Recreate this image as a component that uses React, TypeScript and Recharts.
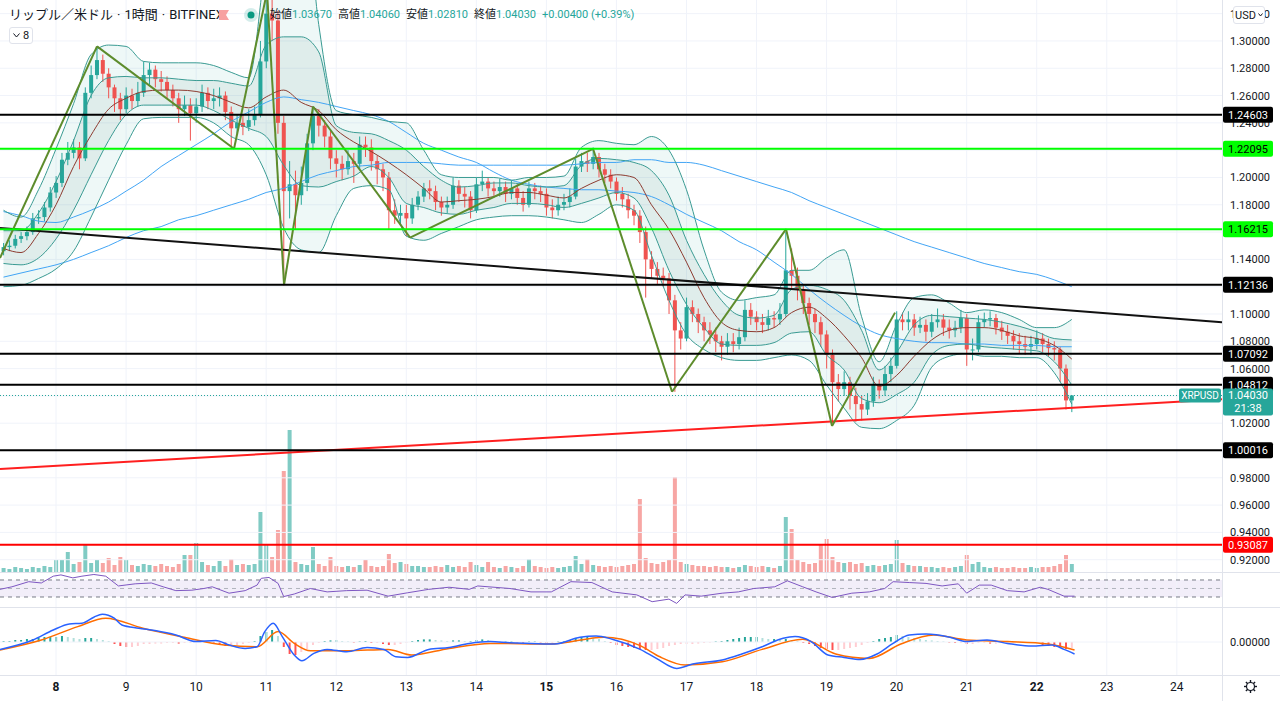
import React from 'react'
import {
  ComposedChart, Bar, Line, Area, XAxis, YAxis, ReferenceLine, ReferenceArea, Cell,
} from 'recharts'

// XRP/USD 1h (Bitfinex), drawn here as 2-hour candles
const T0 = 7.25
const STEP = 1 / 12
const X_DOMAIN: [number, number] = [7.2, 24.645]
const PRICE_DOMAIN: [number, number] = [0.911, 1.33]
const RSI_DOMAIN: [number, number] = [6.47, 86.47]
const MACD_DOMAIN: [number, number] = [-0.0165, 0.017]
const VOL_DOMAIN: [number, number] = [0, 572]

const DAYS = [8, 9, 10, 11, 12, 13, 14, 15, 16, 17, 18, 19, 20, 21, 22, 23, 24]
const BOLD_DAYS = [8, 15, 22]
const PRICE_TICKS = [0.92, 0.94, 0.96, 0.98, 1.0, 1.02, 1.04, 1.06, 1.08, 1.1, 1.12, 1.14, 1.16, 1.18, 1.2, 1.22, 1.24, 1.26, 1.28, 1.3, 1.32]
// scale labels that are not hidden behind a price tag
const PRICE_LABELS = [0.92, 0.94, 0.96, 0.98, 1.02, 1.06, 1.08, 1.1, 1.14, 1.18, 1.2, 1.24, 1.26, 1.28, 1.3, 1.32]

const FIRST_OPEN = 1.146
const CLOSE = [
  1.149, 1.150, 1.155, 1.157, 1.160, 1.170, 1.171, 1.178, 1.189, 1.196,
  1.213, 1.218, 1.222, 1.214, 1.262, 1.275, 1.286, 1.276, 1.266, 1.258,
  1.250, 1.260, 1.256, 1.262, 1.275, 1.279, 1.272, 1.270, 1.264, 1.258,
  1.250, 1.253, 1.247, 1.252, 1.262, 1.256, 1.258, 1.260, 1.248, 1.236,
  1.240, 1.237, 1.242, 1.246, 1.285, 1.320, 1.315, 1.240, 1.190, 1.195,
  1.187, 1.196, 1.225, 1.245, 1.238, 1.230, 1.214, 1.210, 1.206, 1.212,
  1.210, 1.224, 1.222, 1.212, 1.206, 1.200, 1.176, 1.172, 1.174, 1.170,
  1.180, 1.186, 1.192, 1.190, 1.182, 1.178, 1.180, 1.194, 1.188, 1.186,
  1.176, 1.195, 1.197, 1.192, 1.190, 1.193, 1.188, 1.192, 1.185, 1.180,
  1.192, 1.190, 1.188, 1.178, 1.176, 1.180, 1.182, 1.186, 1.208, 1.212,
  1.210, 1.215, 1.206, 1.202, 1.197, 1.188, 1.184, 1.176, 1.172, 1.160,
  1.140, 1.133, 1.128, 1.126, 1.110, 1.088, 1.082, 1.105, 1.100, 1.094,
  1.088, 1.085, 1.080, 1.076, 1.080, 1.078, 1.083, 1.103, 1.098, 1.094,
  1.092, 1.097, 1.096, 1.100, 1.132, 1.128, 1.118, 1.108, 1.100, 1.094,
  1.085, 1.070, 1.050, 1.045, 1.050, 1.040, 1.034, 1.030, 1.036, 1.048,
  1.044, 1.056, 1.062, 1.096, 1.094, 1.096, 1.090, 1.092, 1.087, 1.094,
  1.096, 1.090, 1.088, 1.090, 1.097, 1.074, 1.074, 1.094, 1.096, 1.097,
  1.090, 1.087, 1.084, 1.080, 1.078, 1.076, 1.078, 1.082, 1.078, 1.075,
  1.074, 1.060, 1.0367, 1.0403,
]
const HIGH = [
  1.152, 1.154, 1.158, 1.160, 1.164, 1.174, 1.176, 1.182, 1.193, 1.201,
  1.218, 1.226, 1.228, 1.226, 1.266, 1.282, 1.296, 1.290, 1.280, 1.268,
  1.262, 1.266, 1.265, 1.270, 1.285, 1.284, 1.282, 1.278, 1.274, 1.268,
  1.262, 1.260, 1.258, 1.258, 1.268, 1.266, 1.265, 1.266, 1.263, 1.252,
  1.246, 1.246, 1.250, 1.252, 1.300, 1.340, 1.336, 1.322, 1.245, 1.212,
  1.205, 1.208, 1.232, 1.252, 1.250, 1.242, 1.234, 1.220, 1.216, 1.220,
  1.218, 1.230, 1.230, 1.228, 1.216, 1.210, 1.204, 1.184, 1.180, 1.180,
  1.185, 1.190, 1.196, 1.198, 1.194, 1.186, 1.186, 1.200, 1.198, 1.193,
  1.190, 1.200, 1.205, 1.200, 1.197, 1.199, 1.197, 1.198, 1.195, 1.190,
  1.197, 1.196, 1.194, 1.192, 1.184, 1.186, 1.188, 1.192, 1.214, 1.218,
  1.218, 1.222, 1.218, 1.210, 1.206, 1.200, 1.193, 1.188, 1.180, 1.176,
  1.164, 1.146, 1.138, 1.134, 1.130, 1.114, 1.094, 1.112, 1.110, 1.104,
  1.098, 1.094, 1.090, 1.084, 1.086, 1.086, 1.090, 1.110, 1.108, 1.102,
  1.100, 1.103, 1.102, 1.108, 1.160, 1.148, 1.134, 1.122, 1.112, 1.104,
  1.098, 1.088, 1.074, 1.056, 1.058, 1.054, 1.046, 1.040, 1.042, 1.054,
  1.052, 1.062, 1.068, 1.102, 1.101, 1.102, 1.100, 1.098, 1.096, 1.100,
  1.104, 1.100, 1.096, 1.095, 1.103, 1.100, 1.082, 1.099, 1.101, 1.102,
  1.100, 1.095, 1.092, 1.088, 1.086, 1.084, 1.084, 1.088, 1.086, 1.082,
  1.080, 1.076, 1.063, 1.0406,
]
const LOW = [
  1.143, 1.146, 1.148, 1.152, 1.154, 1.158, 1.166, 1.168, 1.175, 1.185,
  1.193, 1.209, 1.214, 1.206, 1.212, 1.258, 1.272, 1.270, 1.258, 1.248,
  1.242, 1.247, 1.250, 1.252, 1.259, 1.268, 1.266, 1.263, 1.258, 1.252,
  1.240, 1.245, 1.227, 1.240, 1.248, 1.250, 1.250, 1.252, 1.242, 1.221,
  1.232, 1.231, 1.234, 1.238, 1.244, 1.280, 1.300, 1.232, 1.121, 1.170,
  1.162, 1.180, 1.190, 1.220, 1.230, 1.222, 1.206, 1.200, 1.198, 1.202,
  1.196, 1.206, 1.215, 1.205, 1.195, 1.190, 1.162, 1.166, 1.166, 1.157,
  1.166, 1.176, 1.182, 1.184, 1.176, 1.172, 1.174, 1.177, 1.182, 1.178,
  1.170, 1.174, 1.190, 1.186, 1.185, 1.186, 1.182, 1.184, 1.180, 1.175,
  1.178, 1.184, 1.182, 1.172, 1.170, 1.172, 1.176, 1.178, 1.184, 1.204,
  1.204, 1.206, 1.200, 1.196, 1.192, 1.183, 1.178, 1.170, 1.165, 1.152,
  1.112, 1.126, 1.122, 1.120, 1.100, 1.043, 1.074, 1.080, 1.094, 1.086,
  1.080, 1.078, 1.072, 1.066, 1.070, 1.072, 1.074, 1.080, 1.092, 1.088,
  1.086, 1.088, 1.090, 1.092, 1.098, 1.118, 1.110, 1.100, 1.092, 1.086,
  1.076, 1.060, 1.020, 1.036, 1.040, 1.030, 1.021, 1.022, 1.026, 1.032,
  1.038, 1.040, 1.050, 1.060, 1.088, 1.088, 1.084, 1.086, 1.080, 1.083,
  1.090, 1.084, 1.082, 1.083, 1.086, 1.062, 1.066, 1.072, 1.090, 1.091,
  1.085, 1.081, 1.078, 1.074, 1.071, 1.070, 1.070, 1.074, 1.072, 1.069,
  1.066, 1.050, 1.030, 1.0281,
]
// volume, 10k XRP
const VOLUME = [
  4, 3, 5, 4, 3, 5, 4, 6, 5, 12,
  12, 20, 8, 10, 28, 9, 12, 9, 14, 7,
  15, 12, 7, 6, 8, 7, 6, 8, 6, 5,
  8, 17, 17, 29, 10, 7, 6, 11, 6, 13,
  7, 8, 7, 8, 60, 28, 15, 42, 101, 142,
  10, 8, 7, 25, 8, 6, 15, 6, 5, 6,
  5, 7, 12, 6, 5, 6, 18, 9, 10, 8,
  6, 6, 5, 5, 6, 5, 7, 5, 6, 5,
  10, 7, 5, 10, 5, 4, 6, 5, 4, 6,
  13, 6, 5, 4, 5, 4, 5, 6, 16, 8,
  13, 7, 6, 5, 6, 5, 6, 7, 8, 73,
  14, 9, 8, 10, 12, 95, 10, 8, 7, 6,
  6, 5, 6, 5, 5, 4, 5, 7, 6, 5,
  6, 5, 4, 6, 55, 43, 12, 10, 8, 9,
  27, 33, 15, 10, 9, 10, 8, 9, 6, 7,
  6, 7, 8, 32, 9, 7, 6, 6, 5, 5,
  4, 5, 4, 5, 6, 17, 8, 10, 5, 4,
  5, 4, 4, 5, 4, 4, 5, 4, 5, 5,
  6, 8, 17, 8,
]

// Bollinger envelopes and moving averages, every 6 hours (every 3rd candle)
const BB_OUTER_UP = [
  1.176, 1.171, 1.191, 1.221, 1.254, 1.290, 1.297, 1.296, 1.285, 1.284,
  1.284, 1.284, 1.282, 1.277, 1.273, 1.359, 1.418, 1.425, 1.312, 1.249,
  1.246, 1.244, 1.241, 1.240, 1.220, 1.202, 1.200, 1.200, 1.200, 1.198,
  1.200, 1.200, 1.201, 1.222, 1.227, 1.225, 1.224, 1.230, 1.220, 1.191,
  1.147, 1.116, 1.110, 1.112, 1.114, 1.132, 1.132, 1.141, 1.147, 1.098,
  1.065, 1.092, 1.112, 1.114, 1.108, 1.101, 1.103, 1.101, 1.096, 1.090,
  1.090, 1.096,
]
const BB_INNER_UP = [
  1.161, 1.161, 1.174, 1.197, 1.227, 1.260, 1.273, 1.274, 1.273, 1.273,
  1.272, 1.271, 1.271, 1.269, 1.267, 1.297, 1.303, 1.303, 1.292, 1.238,
  1.233, 1.232, 1.227, 1.220, 1.208, 1.198, 1.193, 1.194, 1.196, 1.196,
  1.194, 1.193, 1.194, 1.209, 1.214, 1.213, 1.211, 1.205, 1.187, 1.154,
  1.129, 1.110, 1.099, 1.097, 1.099, 1.118, 1.121, 1.118, 1.110, 1.088,
  1.059, 1.072, 1.092, 1.099, 1.098, 1.097, 1.096, 1.094, 1.091, 1.087,
  1.082, 1.081,
]
const BB_BASIS = [
  1.148, 1.145, 1.159, 1.180, 1.208, 1.231, 1.250, 1.258, 1.263, 1.264,
  1.264, 1.263, 1.260, 1.255, 1.251, 1.259, 1.264, 1.255, 1.249, 1.235,
  1.226, 1.219, 1.211, 1.202, 1.192, 1.182, 1.183, 1.184, 1.186, 1.189,
  1.189, 1.187, 1.185, 1.192, 1.198, 1.202, 1.200, 1.180, 1.162, 1.138,
  1.112, 1.094, 1.088, 1.087, 1.090, 1.101, 1.105, 1.097, 1.084, 1.068,
  1.047, 1.055, 1.069, 1.081, 1.088, 1.090, 1.090, 1.088, 1.084, 1.082,
  1.077, 1.067,
]
const BB_INNER_LO = [
  1.137, 1.136, 1.141, 1.155, 1.176, 1.202, 1.227, 1.246, 1.253, 1.253,
  1.253, 1.253, 1.249, 1.242, 1.236, 1.230, 1.209, 1.194, 1.193, 1.197,
  1.201, 1.208, 1.200, 1.181, 1.178, 1.174, 1.173, 1.176, 1.178, 1.181,
  1.181, 1.180, 1.178, 1.181, 1.185, 1.189, 1.185, 1.163, 1.132, 1.107,
  1.090, 1.078, 1.077, 1.077, 1.079, 1.086, 1.087, 1.070, 1.059, 1.038,
  1.035, 1.041, 1.050, 1.070, 1.077, 1.078, 1.076, 1.075, 1.074, 1.073,
  1.065, 1.048,
]
const BB_OUTER_LO = [
  1.120, 1.121, 1.126, 1.133, 1.146, 1.171, 1.198, 1.224, 1.243, 1.244,
  1.244, 1.244, 1.240, 1.230, 1.224, 1.202, 1.163, 1.147, 1.145, 1.172,
  1.192, 1.194, 1.191, 1.157, 1.154, 1.159, 1.164, 1.169, 1.171, 1.172,
  1.172, 1.171, 1.169, 1.167, 1.173, 1.180, 1.176, 1.143, 1.110, 1.085,
  1.074, 1.068, 1.066, 1.066, 1.068, 1.070, 1.066, 1.048, 1.031, 1.017,
  1.016, 1.022, 1.033, 1.061, 1.069, 1.071, 1.069, 1.069, 1.068, 1.068,
  1.057, 1.034,
]
const MA_FAST = [
  1.175, 1.172, 1.168, 1.167, 1.171, 1.176, 1.182, 1.190, 1.198, 1.208,
  1.216, 1.224, 1.232, 1.241, 1.248, 1.255, 1.259, 1.257, 1.255, 1.252,
  1.249, 1.246, 1.241, 1.233, 1.225, 1.220, 1.215, 1.211, 1.204, 1.198,
  1.195, 1.193, 1.192, 1.191, 1.191, 1.190, 1.189, 1.186, 1.180, 1.173,
  1.167, 1.161, 1.153, 1.147, 1.138, 1.129, 1.118, 1.108, 1.099, 1.091,
  1.085, 1.082, 1.080, 1.079, 1.079, 1.078, 1.078, 1.077, 1.077, 1.077,
  1.076, 1.076,
]
const MA_SLOW = [
  1.127, 1.130, 1.133, 1.136, 1.140, 1.145, 1.150, 1.156, 1.161, 1.164,
  1.169, 1.172, 1.176, 1.180, 1.184, 1.189, 1.192, 1.197, 1.202, 1.205,
  1.208, 1.209, 1.211, 1.211, 1.211, 1.210, 1.209, 1.209, 1.209, 1.209,
  1.209, 1.209, 1.209, 1.210, 1.211, 1.211, 1.213, 1.213, 1.211, 1.211,
  1.209, 1.205, 1.201, 1.197, 1.193, 1.189, 1.183, 1.178, 1.173, 1.168,
  1.163, 1.158, 1.153, 1.149, 1.145, 1.141, 1.137, 1.134, 1.131, 1.129,
  1.125, 1.120,
]

// horizontal levels and drawings
const BLACK_LEVELS = [1.24603, 1.12136, 1.07092, 1.04812, 1.00016]
const GREEN_LEVELS = [1.22095, 1.16215]
const RED_LEVELS = [0.93087]
const LAST_PRICE = 1.0403
const RESIST_T = [7.2, 24.645]
const RESIST_P = [1.163, 1.094]
const SUPPORT_T = [7.2, 24.645]
const SUPPORT_P = [0.9864, 1.0376]
const ZIGZAG_T = [7.2, 8.585, 10.541, 11.012, 11.255, 11.669, 13.054, 15.666, 16.794, 18.421, 19.078, 19.977]
const ZIGZAG_P = [1.141, 1.296, 1.221, 1.336, 1.1214, 1.252, 1.156, 1.221, 1.043, 1.1622, 1.018, 1.101]

// RSI(14)
const RSI_T = [
  7.20, 7.37, 7.61, 7.79, 7.96, 8.07, 8.24, 8.37, 8.54, 8.71,
  8.89, 9.13, 9.36, 9.53, 9.71, 9.94, 10.11, 10.23, 10.47, 10.70,
  10.87, 10.93, 11.04, 11.17, 11.25, 11.40, 11.63, 11.87, 12.15, 12.44,
  12.74, 13.02, 13.32, 13.61, 13.90, 14.02, 14.48, 14.78, 15.07, 15.35,
  15.65, 15.94, 16.29, 16.51, 16.75, 16.86, 16.98, 17.21, 17.51, 17.74,
  17.96, 18.26, 18.44, 18.66, 18.85, 19.08, 19.36, 19.61, 19.83, 19.95,
  20.18, 20.42, 20.65, 20.88, 21.00, 21.18, 21.35, 21.58, 21.82, 22.05,
  22.16, 22.39, 22.54,
]
const RSI_V = [
  48, 54, 66, 63, 79, 82, 75, 79, 83, 79,
  56, 61, 63, 54, 45, 46, 50, 54, 39, 45,
  58, 74, 76, 62, 31, 37, 50, 42, 45, 46,
  32, 40, 48, 53, 48, 56, 50, 42, 42, 66,
  64, 42, 35, 19, 25, 15, 35, 32, 39, 42,
  50, 54, 68, 54, 42, 29, 39, 42, 50, 66,
  64, 62, 56, 61, 39, 58, 58, 45, 42, 53,
  48, 32, 32,
]

// MACD(12,26,9), values in 1e-4
const MACD_T = [
  7.20, 7.67, 7.96, 8.19, 8.37, 8.54, 8.66, 8.83, 8.94, 9.18,
  9.41, 9.71, 10.00, 10.28, 10.47, 10.70, 10.87, 10.98, 11.10, 11.23,
  11.40, 11.51, 11.68, 11.87, 12.15, 12.44, 12.68, 12.85, 13.02, 13.32,
  13.61, 13.90, 14.20, 14.48, 14.78, 15.12, 15.48, 15.71, 15.94, 16.34,
  16.57, 16.86, 17.09, 17.51, 17.79, 18.08, 18.38, 18.55, 18.78, 19.02,
  19.25, 19.48, 19.72, 19.95, 20.18, 20.42, 20.76, 21.00, 21.29, 21.58,
  21.93, 22.22, 22.39, 22.54,
]
const MACD_V = [
  -37, 10, 60, 90, 94, 124, 139, 119, 85, 69,
  57, 35, 2, 7, -15, -32, -24, 52, 94, 27,
  -65, -94, -57, -37, -49, -27, -37, -74, -77, -37,
  -27, -7, 2, -4, -7, -10, 24, 30, 14, -37,
  -82, -132, -110, -90, -60, -24, 19, 27, 2, -65,
  -77, -87, -60, -7, 35, 40, 24, 2, 10, -7,
  -20, -15, -37, -60,
]
const SIGNAL_T = [
  7.20, 7.79, 8.31, 8.71, 9.24, 9.83, 10.40, 10.87, 11.17, 11.40,
  11.63, 12.15, 12.74, 13.08, 13.61, 14.20, 15.07, 15.82, 16.34, 16.62,
  16.98, 17.51, 18.08, 18.66, 19.13, 19.61, 20.06, 20.53, 21.00, 21.58,
  22.16, 22.54,
]
const SIGNAL_V = [
  -40, 10, 77, 119, 69, 24, -15, -24, 52, -7,
  -44, -44, -37, -65, -32, -7, -10, 24, -18, -74,
  -115, -99, -37, 14, -60, -82, -10, 35, 10, 2,
  -10, -40,
]
const MACD_HIST = [
  5, 5, 10, 10, 15, 15, 20, 25, 25, 25,
  30, 25, 20, 15, 20, 20, 15, 10, 5, -10,
  -20, -25, -25, -20, -10, -10, -8, -8, -5, -5,
  -8, -5, -5, 3, 3, -5, -10, -15, -20, -20,
  -15, -10, -5, 5, 30, 50, 60, 30, -25, -60,
  -65, -50, -35, -15, -5, 5, 8, 8, 5, 3,
  -3, 3, 5, -5, -5, -10, -15, -15, -10, -5,
  5, 10, 13, 13, 10, 8, 5, 8, 8, 5,
  5, 10, 13, 10, 5, 3, 3, 3, -3, -5,
  3, 3, -3, -5, -5, 3, 5, 10, 20, 25,
  25, 20, 15, 5, -5, -15, -20, -25, -30, -35,
  -40, -40, -35, -30, -20, -15, -10, -10, -10, -8,
  -5, -3, 3, 5, 10, 15, 20, 25, 25, 25,
  20, 15, 15, 10, 15, 10, 5, -5, -10, -20,
  -30, -35, -40, -40, -35, -30, -25, -15, -5, 5,
  15, 20, 25, 35, 30, 25, 20, 15, 10, 8,
  5, 3, -3, -5, -5, -10, -10, -5, -5, -8,
  -8, -5, -5, -5, -3, -5, -5, -3, -15, -20,
  -25, -30, -35, -30,
]

const UP = '#26a69a'
const DOWN = '#ef5350'
const TEXT = '#131722'
const GRID = '#f0f3fa'
const BORDER = '#e0e3eb'
const BAND = '#3a9b93'
const FONT = 'Roboto, "Noto Sans CJK JP", "Noto Sans", sans-serif'

const rows = CLOSE.map((c, i) => {
  const k = i % 3 === 0 ? i / 3 : -1
  const pick = (a: number[]) => (k >= 0 ? a[k] : null)
  return {
    t: T0 + i * STEP,
    o: i === 0 ? FIRST_OPEN : CLOSE[i - 1],
    h: HIGH[i],
    l: LOW[i],
    c,
    vol: VOLUME[i],
    hist: MACD_HIST[i] / 1e4,
    ou: pick(BB_OUTER_UP),
    iu: pick(BB_INNER_UP),
    mid: pick(BB_BASIS),
    il: pick(BB_INNER_LO),
    ol: pick(BB_OUTER_LO),
    fast: pick(MA_FAST),
    slow: pick(MA_SLOW),
  }
})
const histRows = rows.map((r, i) => ({ t: r.t, hist: r.hist, prev: i > 0 ? rows[i - 1].hist : 0 }))
const rsiRows = RSI_T.map((t, i) => ({ t, v: RSI_V[i] }))
const lineTimes = Array.from(new Set([...MACD_T, ...SIGNAL_T])).sort((a, b) => a - b)
const macdLineRows = lineTimes.map((t) => {
  const m = MACD_T.indexOf(t)
  const s = SIGNAL_T.indexOf(t)
  return { t, macd: m >= 0 ? MACD_V[m] / 1e4 : null, signal: s >= 0 ? SIGNAL_V[s] / 1e4 : null }
})

const histColor = (v: number, prev: number) =>
  v >= 0 ? (v >= prev ? '#26a69a' : '#b2dfdb') : (v < prev ? '#ff5252' : '#ffcdd2')

const Candle = (props: any) => {
  const { x, y, width, height, payload } = props
  if (payload == null || x == null || y == null) return null
  const { o, h, l, c } = payload
  const top = Math.min(y, y + height)
  const span = Math.abs(height)
  const k = h > l ? span / (h - l) : 0
  const color = c >= o ? UP : DOWN
  const bodyTop = top + (h - Math.max(o, c)) * k
  const bodyH = Math.max(1, Math.abs(c - o) * k)
  const cx = x + width / 2
  return (
    <g>
      <line x1={cx} x2={cx} y1={top} y2={top + span} stroke={color} strokeWidth={1} />
      <rect x={x} y={bodyTop} width={width} height={bodyH} fill={color} />
    </g>
  )
}

const PriceTick = ({ x, y, payload }: any) => (
  <text x={x} y={y} dy={4} fontSize={11} fill={TEXT} textAnchor="start">
    {Number(payload.value).toFixed(5)}
  </text>
)

const TimeTick = ({ x, y, payload }: any) => (
  <text x={x} y={y} dy={8} fontSize={12} fill={TEXT} textAnchor="middle"
    fontWeight={BOLD_DAYS.includes(payload.value) ? 700 : 400}>
    {payload.value}
  </text>
)

const tag = (value: number, bg: string, fg: string) => (p: any) => {
  const vb = p.viewBox
  if (!vb) return null
  const x = vb.x + vb.width
  return (
    <g>
      <rect x={x + 1} y={vb.y - 8} width={50} height={16} rx={2} fill={bg} />
      <text x={x + 26} y={vb.y + 4} textAnchor="middle" fontSize={11} fill={fg}>{value.toFixed(5)}</text>
    </g>
  )
}

const lastTag = (p: any) => {
  const vb = p.viewBox
  if (!vb) return null
  const x = vb.x + vb.width
  return (
    <g>
      <rect x={x - 43} y={vb.y - 7} width={42} height={14} rx={2} fill={UP} />
      <text x={x - 22} y={vb.y + 4} textAnchor="middle" fontSize={10} fill="#fff">XRPUSD</text>
      <rect x={x + 1} y={vb.y - 7} width={50} height={27} rx={2} fill={UP} />
      <text x={x + 26} y={vb.y + 4} textAnchor="middle" fontSize={11} fill="#fff">{LAST_PRICE.toFixed(5)}</text>
      <text x={x + 26} y={vb.y + 17} textAnchor="middle" fontSize={11} fill="#fff">21:38</text>
    </g>
  )
}

const dayLines = (yAxisId: string) =>
  DAYS.map((d) => <ReferenceLine key={'d' + d} x={d} yAxisId={yAxisId} stroke={GRID} strokeWidth={1} />)

const Legend = ({ label, value }: { label: string; value: string }) => (
  <span style={{ marginRight: 6 }}>
    <span style={{ color: TEXT }}>{label}</span>
    <span style={{ color: UP }}>{value}</span>
  </span>
)

export default function App() {
  const abs = (top: number): React.CSSProperties => ({ position: 'absolute', left: 0, top })
  return (
    <div style={{ position: 'relative', width: 1280, height: 701, background: '#fff', fontFamily: FONT, overflow: 'hidden' }}>
      <style>{'body{margin:0}'}</style>

      {/* grid + volume */}
      <div style={abs(0)}>
        <ComposedChart width={1280} height={572} data={rows} margin={{ top: 0, right: 58, bottom: 0, left: 0 }}>
          <XAxis type="number" dataKey="t" domain={X_DOMAIN} allowDataOverflow hide />
          <YAxis yAxisId="p" domain={PRICE_DOMAIN} allowDataOverflow hide />
          <YAxis yAxisId="v" domain={VOL_DOMAIN} allowDataOverflow hide />
          {PRICE_TICKS.map((p) => <ReferenceLine key={'g' + p} y={p} yAxisId="p" stroke={GRID} />)}
          {dayLines('p')}
          <Bar yAxisId="v" dataKey="vol" barSize={4} isAnimationActive={false}>
            {rows.map((r, i) => <Cell key={i} fill={r.c >= r.o ? '#80cbc4' : '#f7a6a4'} />)}
          </Bar>
        </ComposedChart>
      </div>

      {/* price series */}
      <div style={abs(0)}>
        <ComposedChart width={1280} height={572} data={rows} margin={{ top: 0, right: 0, bottom: 0, left: 0 }}>
          <XAxis type="number" dataKey="t" domain={X_DOMAIN} allowDataOverflow hide />
          <YAxis yAxisId="p" orientation="right" width={58} domain={PRICE_DOMAIN} allowDataOverflow
            ticks={PRICE_LABELS} interval={0} tick={<PriceTick />} axisLine={false} tickLine={false} />
          <Area yAxisId="p" dataKey={(r: any) => (r.ou == null ? null : [r.ol, r.ou])} type="monotone"
            stroke="none" fill="#26a69a" fillOpacity={0.08} connectNulls isAnimationActive={false} />
          <Area yAxisId="p" dataKey={(r: any) => (r.iu == null ? null : [r.il, r.iu])} type="monotone"
            stroke="none" fill="#2f6f6b" fillOpacity={0.08} connectNulls isAnimationActive={false} />
          <Line yAxisId="p" dataKey="slow" type="monotone" stroke="#42a5f5" strokeWidth={1} dot={false} connectNulls isAnimationActive={false} />
          <Line yAxisId="p" dataKey="fast" type="monotone" stroke="#42a5f5" strokeWidth={1} dot={false} connectNulls isAnimationActive={false} />
          <Line yAxisId="p" dataKey="ou" type="monotone" stroke={BAND} strokeWidth={1} dot={false} connectNulls isAnimationActive={false} />
          <Line yAxisId="p" dataKey="ol" type="monotone" stroke={BAND} strokeWidth={1} dot={false} connectNulls isAnimationActive={false} />
          <Line yAxisId="p" dataKey="iu" type="monotone" stroke={BAND} strokeWidth={1} dot={false} connectNulls isAnimationActive={false} />
          <Line yAxisId="p" dataKey="il" type="monotone" stroke={BAND} strokeWidth={1} dot={false} connectNulls isAnimationActive={false} />
          <Line yAxisId="p" dataKey="mid" type="monotone" stroke="#8d3b30" strokeWidth={1} dot={false} connectNulls isAnimationActive={false} />
          <Bar yAxisId="p" dataKey={(r: any) => [r.l, r.h]} barSize={4} shape={<Candle />} isAnimationActive={false} />
        </ComposedChart>
      </div>

      {/* drawings */}
      <div style={abs(0)}>
        <ComposedChart width={1280} height={572} data={rows} margin={{ top: 0, right: 58, bottom: 0, left: 0 }}>
          <XAxis type="number" dataKey="t" domain={X_DOMAIN} allowDataOverflow hide />
          <YAxis yAxisId="p" domain={PRICE_DOMAIN} allowDataOverflow hide />
          <ReferenceLine yAxisId="p" ifOverflow="hidden" stroke="#ff1f1f" strokeWidth={2}
            segment={[{ x: SUPPORT_T[0], y: SUPPORT_P[0] }, { x: SUPPORT_T[1], y: SUPPORT_P[1] }]} />
          <ReferenceLine yAxisId="p" ifOverflow="hidden" stroke="#111" strokeWidth={2}
            segment={[{ x: RESIST_T[0], y: RESIST_P[0] }, { x: RESIST_T[1], y: RESIST_P[1] }]} />
          {ZIGZAG_T.slice(1).map((t, i) => (
            <ReferenceLine key={'z' + i} yAxisId="p" ifOverflow="hidden" stroke="#5d8c2c" strokeWidth={2}
              segment={[{ x: ZIGZAG_T[i], y: ZIGZAG_P[i] }, { x: t, y: ZIGZAG_P[i + 1] }]} />
          ))}
          {GREEN_LEVELS.map((p) => (
            <ReferenceLine key={'gl' + p} yAxisId="p" y={p} stroke="#00ff00" strokeWidth={2} label={tag(p, '#00ff00', '#000')} />
          ))}
          {BLACK_LEVELS.map((p) => (
            <ReferenceLine key={'bl' + p} yAxisId="p" y={p} stroke="#000" strokeWidth={2} label={tag(p, '#000', '#fff')} />
          ))}
          {RED_LEVELS.map((p) => (
            <ReferenceLine key={'rl' + p} yAxisId="p" y={p} stroke="#ff0000" strokeWidth={2} label={tag(p, '#ff0000', '#fff')} />
          ))}
          <ReferenceLine yAxisId="p" y={LAST_PRICE} stroke={UP} strokeDasharray="1 2" label={lastTag} />
        </ComposedChart>
      </div>

      {/* RSI */}
      <div style={abs(573)}>
        <ComposedChart width={1280} height={34} data={rsiRows} margin={{ top: 0, right: 58, bottom: 0, left: 0 }}>
          <XAxis type="number" dataKey="t" domain={X_DOMAIN} allowDataOverflow hide />
          <YAxis yAxisId="r" domain={RSI_DOMAIN} allowDataOverflow hide />
          {dayLines('r')}
          <ReferenceArea yAxisId="r" y1={30} y2={70} fill="#7e57c2" fillOpacity={0.1} stroke="none" />
          <ReferenceLine yAxisId="r" y={70} stroke="#787b86" strokeDasharray="4 4" />
          <ReferenceLine yAxisId="r" y={50} stroke="#b2b5be" strokeDasharray="4 4" />
          <ReferenceLine yAxisId="r" y={30} stroke="#787b86" strokeDasharray="4 4" />
          <Line yAxisId="r" dataKey="v" type="linear" stroke="#7e57c2" strokeWidth={1} dot={false} isAnimationActive={false} />
        </ComposedChart>
      </div>

      {/* MACD histogram + time axis */}
      <div style={abs(608)}>
        <ComposedChart width={1280} height={93} data={histRows} margin={{ top: 0, right: 0, bottom: 0, left: 0 }}>
          <XAxis type="number" dataKey="t" domain={X_DOMAIN} allowDataOverflow ticks={DAYS} interval={0}
            height={26} tick={<TimeTick />} axisLine={false} tickLine={false} />
          <YAxis yAxisId="m" orientation="right" width={58} domain={MACD_DOMAIN} allowDataOverflow ticks={[0]}
            tick={<PriceTick />} axisLine={false} tickLine={false} />
          {dayLines('m')}
          <ReferenceLine yAxisId="m" y={0} stroke={GRID} />
          <Bar yAxisId="m" dataKey="hist" barSize={2} isAnimationActive={false}>
            {histRows.map((r, i) => <Cell key={i} fill={histColor(r.hist, r.prev)} />)}
          </Bar>
        </ComposedChart>
      </div>

      {/* MACD & signal lines */}
      <div style={abs(608)}>
        <ComposedChart width={1280} height={93} data={macdLineRows} margin={{ top: 0, right: 58, bottom: 26, left: 0 }}>
          <XAxis type="number" dataKey="t" domain={X_DOMAIN} allowDataOverflow hide />
          <YAxis yAxisId="m" domain={MACD_DOMAIN} allowDataOverflow hide />
          <Line yAxisId="m" dataKey="signal" type="monotone" stroke="#ff6d00" strokeWidth={1.5} dot={false} connectNulls isAnimationActive={false} />
          <Line yAxisId="m" dataKey="macd" type="monotone" stroke="#2962ff" strokeWidth={1.5} dot={false} connectNulls isAnimationActive={false} />
        </ComposedChart>
      </div>

      {/* pane borders */}
      <div style={{ position: 'absolute', left: 0, top: 572, width: 1280, height: 1, background: BORDER }} />
      <div style={{ position: 'absolute', left: 0, top: 607, width: 1280, height: 1, background: BORDER }} />
      <div style={{ position: 'absolute', left: 0, top: 675, width: 1280, height: 1, background: BORDER }} />
      <div style={{ position: 'absolute', left: 1222, top: 0, width: 1, height: 701, background: BORDER }} />

      {/* header */}
      <div style={{ position: 'absolute', left: 9, top: 6, fontSize: 13, color: TEXT, whiteSpace: 'nowrap', lineHeight: '18px' }}>
        リップル／米ドル<span style={{ margin: '0 4px' }}>·</span>1時間<span style={{ margin: '0 4px' }}>·</span>BITFINEX
      </div>
      <svg style={{ position: 'absolute', left: 219, top: 10 }} width={11} height={10}>
        <path d="M0 0 H10 L7 5 L10 10 H0 Z" fill="#f7a1a1" />
      </svg>
      <svg style={{ position: 'absolute', left: 244, top: 8 }} width={14} height={14}>
        <circle cx={7} cy={7} r={7} fill="#26a69a" fillOpacity={0.2} />
        <circle cx={7} cy={7} r={3.5} fill="#089981" />
      </svg>
      <div style={{ position: 'absolute', left: 270, top: 7, fontSize: 11, whiteSpace: 'nowrap', lineHeight: '16px' }}>
        <Legend label="始値" value="1.03670" />
        <Legend label="高値" value="1.04060" />
        <Legend label="安値" value="1.02810" />
        <Legend label="終値" value="1.04030" />
        <span style={{ color: UP }}>+0.00400 (+0.39%)</span>
      </div>
      <div style={{ position: 'absolute', left: 9, top: 27, width: 22, height: 15, border: `1px solid ${BORDER}`, borderRadius: 3,
        background: '#fff', display: 'flex', alignItems: 'center', justifyContent: 'center', gap: 3, fontSize: 11, color: TEXT }}>
        <svg width={7} height={5}><path d="M0.5 0.5 L3.5 4 L6.5 0.5" stroke={TEXT} fill="none" /></svg>
        <span>8</span>
      </div>
      <div style={{ position: 'absolute', left: 1233, top: 6, width: 30, height: 16, border: `1px solid ${BORDER}`, borderRadius: 3,
        background: '#fff', display: 'flex', alignItems: 'center', justifyContent: 'center', gap: 2, fontSize: 11, color: TEXT }}>
        <span>USD</span>
        <svg width={5} height={4}><path d="M0.5 0.5 L2.5 3 L4.5 0.5" stroke={TEXT} fill="none" /></svg>
      </div>
      <svg style={{ position: 'absolute', left: 1243, top: 679 }} width={15} height={15}>
        <circle cx={7.5} cy={7.5} r={4} stroke={TEXT} strokeWidth={1.2} fill="none" />
        {[0, 45, 90, 135, 180, 225, 270, 315].map((a) => (
          <line key={a} x1={7.5 + 4 * Math.cos((a * Math.PI) / 180)} y1={7.5 + 4 * Math.sin((a * Math.PI) / 180)}
            x2={7.5 + 6.5 * Math.cos((a * Math.PI) / 180)} y2={7.5 + 6.5 * Math.sin((a * Math.PI) / 180)}
            stroke={TEXT} strokeWidth={1.4} />
        ))}
      </svg>
    </div>
  )
}
